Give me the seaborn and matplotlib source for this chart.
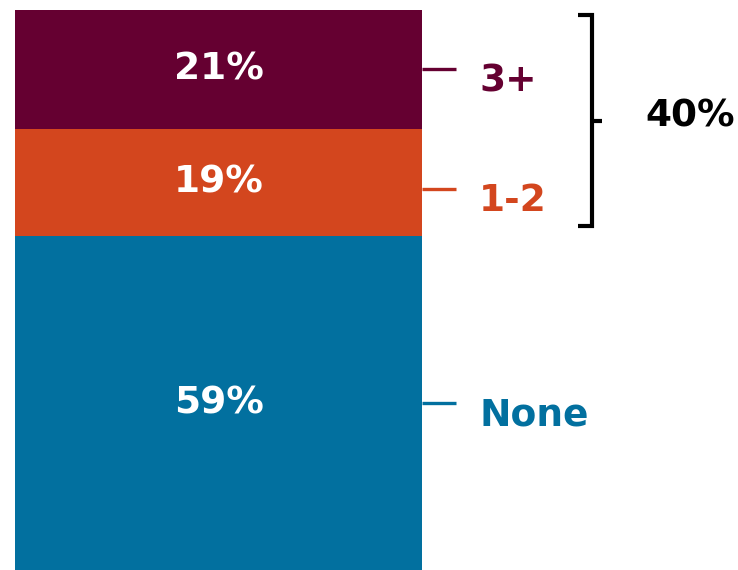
import numpy as np
import pandas as pd
import matplotlib
matplotlib.use("Agg")
import matplotlib.pyplot as plt
import seaborn as sns

# ---- data ----
categories = ["None", "1-2", "3+"]
values = [59, 19, 21]
colors = ["#02709f", "#d3461e", "#650031"]
bracket_label_cats = ["1-2", "3+"]

sns.set_theme(style="white")
plt.rcParams["font.family"] = ["DejaVu Sans"]

W, H = 738, 570
fig = plt.figure(figsize=(W / 100, H / 100), dpi=100)
ax = fig.add_axes([0, 0, 1, 1])

cum = np.cumsum(values)
bottoms = cum - np.array(values)

# stacked bar: draw cumulative totals, tallest first
bar_w = 0.8
for i in reversed(range(len(categories))):
    df = pd.DataFrame({"group": ["All"], "total": [cum[i]]})
    sns.barplot(data=df, x="group", y="total", color=colors[i], saturation=1,
                width=bar_w, linewidth=0, ax=ax)

# map pixels <-> data
px_per_unit = 407 / bar_w
center_px = 218.5
x0 = -center_px / px_per_unit
x1 = (W - center_px) / px_per_unit
ytop = cum[-1] * H / (H - 10)
ax.set_xlim(x0, x1)
ax.set_ylim(0, ytop)
ax.axis("off")

def dx(px):
    return x0 + px / px_per_unit

def dy(py):
    return ytop * (1 - py / H)

def py_of(y):
    return H * (1 - y / ytop)

fs = 27
nudges = [0, 6, 0]
for i, cat in enumerate(categories):
    mid = bottoms[i] + values[i] / 2
    ax.text(0, mid, f"{values[i]}%", color="white", fontsize=fs,
            fontweight="bold", ha="center", va="center")
    tpy = py_of(mid) + nudges[i]
    ax.plot([dx(422), dx(456)], [dy(tpy), dy(tpy)], color=colors[i],
            lw=2.4, solid_capstyle="butt")
    ax.text(dx(479), dy(tpy + 12), cat, color=colors[i], fontsize=fs,
            fontweight="bold", ha="left", va="center")

# bracket around 1-2 and 3+
idx = [categories.index(c) for c in bracket_label_cats]
b_top = py_of(cum[max(idx)]) + 5
b_bot = py_of(bottoms[min(idx)]) - 10
b_mid = (b_top + b_bot) / 2
ax.plot([dx(578), dx(592), dx(592), dx(578)],
        [dy(b_top), dy(b_top), dy(b_bot), dy(b_bot)],
        color="black", lw=3, solid_joinstyle="miter", solid_capstyle="butt")
ax.plot([dx(592), dx(602)], [dy(b_mid), dy(b_mid)], color="black", lw=3,
        solid_capstyle="butt")
total = sum(values[i] for i in idx)
ax.text(dx(645), dy(b_mid - 4), f"{total}%", color="black", fontsize=fs,
        fontweight="bold", ha="left", va="center")

fig.savefig("out.png", dpi=100, facecolor="white")
